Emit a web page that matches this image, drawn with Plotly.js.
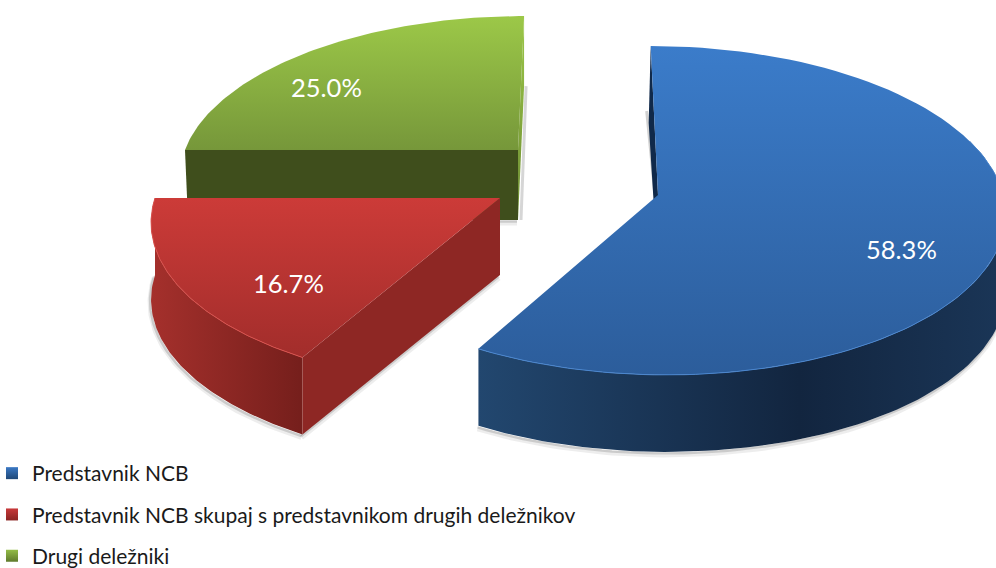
<!DOCTYPE html>
<html>
<head>
<meta charset="utf-8">
<script src="https://cdn.plot.ly/plotly-3.0.1.min.js"></script>
<style>html,body{margin:0;padding:0;background:#fff}#chart{width:996px;height:568px}</style>
</head>
<body>
<div id="chart"></div>
<script>
// Data
const categories = ['Predstavnik NCB', 'Predstavnik NCB skupaj s predstavnikom drugih deležnikov', 'Drugi deležniki'];
const shares = [58.3, 16.7, 25.0];

// Look of each slice (solid colours, gradients)
const swatchColors = ['#3a78c4', '#c8393a', '#94bd47'];
const swatchDark = ['#1f4877', '#8a2422', '#5f7a2c'];
const topGradients = [
  ['#3b7cca', '#2c5d9b'],
  ['#cc3b38', '#a22d2b'],
  ['#9cc848', '#76973a']
];
const sideGradients = [
  [[0, '#22476f'], [0.62, '#12253f'], [1, '#1a3556']],
  [[0, '#a5302c'], [1, '#761f1c']]
];
const faceColors = ['#10294a', '#8e2724', '#3f4e1c'];
const rimColors = ['#4a86cf', '#d8504c', '#a4cc55'];

// 3-D projection of each exploded slice (apex position, radii, perspective, lean, height)
const views = [
  {cx: 658, cy: 195, rx: 345, ry: 163, p: 0.094, k: -8, d: 77},
  {cx: 500, cy: 198, rx: 345, ry: 160, p: 0.15,  k: 0,  d: 77},
  {cx: 518, cy: 150, rx: 333, ry: 154, p: 0.15,  k: 7,  d: 70}
];
const labelPos = [[901, 249], [288, 283], [326, 87]];

const total = shares.reduce((a, b) => a + b, 0);
const angles = [];
let acc = 0;
shares.forEach(v => { angles.push([acc / total * 360, (acc + v) / total * 360]); acc += v; });

function proj(v, deg, dz) {
  const t = deg * Math.PI / 180, c = Math.cos(t), s = 1 / (1 + v.p * c);
  return [v.cx + (v.rx * Math.sin(t) + v.k * c) * s, v.cy - v.ry * c * s + (dz || 0)];
}
function arc(v, a0, a1, dz) {
  const pts = [], n = 90;
  for (let i = 0; i <= n; i++) pts.push(proj(v, a0 + (a1 - a0) * i / n, dz));
  return pts;
}
function xs(p) { return p.map(q => q[0]); }
function ys(p) { return p.map(q => q[1]); }
function poly(p, extra) {
  const c = p.concat([p[0]]);
  return Object.assign({type: 'scatter', mode: 'lines', x: xs(c), y: ys(c), fill: 'toself',
    line: {width: 0}, showlegend: false, hoverinfo: 'skip'}, extra);
}
function line(p, color, width) {
  return {type: 'scatter', mode: 'lines', x: xs(p), y: ys(p), line: {color: color, width: width},
    showlegend: false, hoverinfo: 'skip'};
}
function apex(v, dz) { return [v.cx, v.cy + (dz || 0)]; }

function topFace(i) {
  const v = views[i], a = arc(v, angles[i][0], angles[i][1]);
  const ysAll = ys(a).concat(v.cy);
  return poly(a.concat([apex(v)]), {fillgradient: {type: 'vertical',
    start: Math.min.apply(null, ysAll), stop: Math.max.apply(null, ysAll),
    colorscale: [[0, topGradients[i][0]], [1, topGradients[i][1]]]}});
}
function shadow(p) {
  return [line(p.map(q => [q[0] - 1, q[1] + 3]), 'rgba(0,0,0,0.07)', 5),
          line(p.map(q => [q[0] - 1, q[1] + 1.5]), 'rgba(0,0,0,0.14)', 2.5)];
}

const traces = [];

// Green slice (far, left)
{
  const v = views[2], a = angles[2];
  const L = proj(v, a[0]), T = proj(v, a[1]);
  traces.push(...shadow([apex(v, v.d), [L[0] + 3, L[1] + v.d]]));
  traces.push(line([[T[0] + 2, T[1] + v.d], [v.cx + 3, v.cy + v.d]], 'rgba(0,0,0,0.16)', 3));
  // its inner wall shows as a narrow strip on the right
  traces.push(poly([T, [T[0], T[1] + v.d], apex(v, v.d), apex(v)], {fillgradient: {type: 'vertical',
    start: T[1], stop: v.cy + v.d, colorscale: [[0, '#9cc848'], [1, '#6c8a33']]}}));
  traces.push(poly([apex(v), L, [L[0] + 3, L[1] + v.d], apex(v, v.d)], {fillcolor: faceColors[2]}));
  traces.push(topFace(2));
}
// Blue slice inner wall, seen as a thin wedge beside its far edge
{
  const v = views[0], a = angles[0];
  const T = proj(v, a[0]);
  traces.push(line([[T[0] - 4, T[1] + 65], [v.cx - 3, v.cy]], 'rgba(0,0,0,0.18)', 3));
  traces.push(poly([T, [T[0] - 2, T[1] + 77], apex(v, v.d), apex(v)], {fillcolor: faceColors[0]}));
}
// Red slice
{
  const v = views[1], a = angles[1];
  const outer = arc(v, a[0], a[1]);
  const lower = arc(v, a[0], a[1], v.d);
  const tip = proj(v, a[0]);
  traces.push(...shadow(lower));
  traces.push(...shadow([[tip[0], tip[1] + v.d], apex(v, v.d)]));
  traces.push(poly(outer.concat(lower.slice().reverse()), {fillgradient: {type: 'horizontal',
    start: 150, stop: 300, colorscale: sideGradients[1]}}));
  traces.push(poly([apex(v), tip, [tip[0], tip[1] + v.d], apex(v, v.d)], {fillcolor: faceColors[1]}));
  traces.push(topFace(1));
  traces.push(line(outer, rimColors[1], 1));
}
// Blue slice
{
  const v = views[0], a = angles[0];
  const visible = arc(v, 70, a[1]);
  const lower = arc(v, 70, a[1], v.d);
  traces.push(...shadow(lower));
  traces.push(poly(visible.concat(lower.slice().reverse()), {fillgradient: {type: 'horizontal',
    start: 478, stop: 996, colorscale: sideGradients[0]}}));
  traces.push(topFace(0));
  traces.push(line(visible, rimColors[0], 1));
}

// Legend entries
categories.forEach((name, i) => {
  traces.push({type: 'scatter', mode: 'markers', x: [null], y: [null], name: name, legendgroup: 'g' + i,
    marker: {symbol: 'square', size: 12, color: swatchColors[i],
      gradient: {type: 'vertical', color: swatchDark[i]}}, hoverinfo: 'skip'});
});

const layout = {
  width: 996, height: 568,
  margin: {l: 0, r: 0, t: 0, b: 0, autoexpand: false},
  paper_bgcolor: '#fff', plot_bgcolor: '#fff',
  xaxis: {range: [0, 996], visible: false, fixedrange: true},
  yaxis: {range: [568, 0], visible: false, fixedrange: true},
  showlegend: true,
  legend: {x: -8 / 996, xanchor: 'left', y: 1 - 453 / 568, yanchor: 'top', tracegroupgap: 11,
    bgcolor: 'rgba(0,0,0,0)', font: {family: 'Lato, sans-serif', size: 21, color: '#1a1a1a'}},
  annotations: shares.map((v, i) => ({
    x: labelPos[i][0], y: labelPos[i][1], xref: 'x', yref: 'y', showarrow: false,
    text: v.toFixed(1) + '%', font: {family: 'Lato, sans-serif', size: 25.5, color: '#fff'}
  }))
};
Plotly.newPlot('chart', traces, layout, {displayModeBar: false, responsive: false});
</script>
</body>
</html>
